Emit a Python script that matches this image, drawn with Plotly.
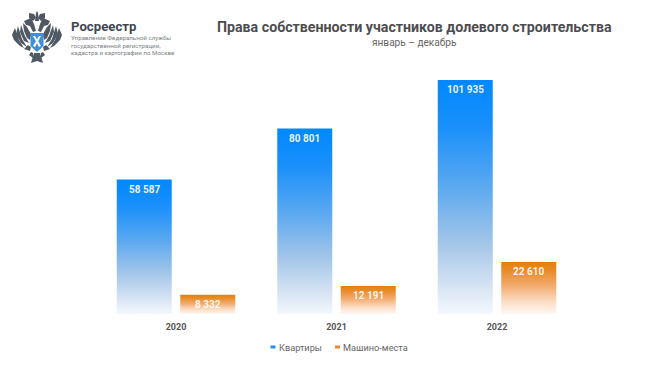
import plotly.graph_objects as go

years = ["2020", "2021", "2022"]
apartments = [58587, 80801, 101935]
parking = [8332, 12191, 22610]
apartment_labels = ["58 587", "80 801", "101 935"]
parking_labels = ["8 332", "12 191", "22 610"]
series_names = ["Квартиры", "Машино-места"]
title_text = "Права собственности участников долевого строительства"
subtitle_text = "январь – декабрь"
org_name = "Росреестр"
org_lines = ["Управление Федеральной службы", "государственной регистрации,", "кадастра и картографии по Москве"]

W, H = 650, 367
BASE_PX = 314
K = 101935 / 234
PITCH = 160.5
X0 = 176
BAR_W = 55 / PITCH
OFF = 31.75 / PITCH

BLUE = [[0, "#f4f8fd"], [0.12, "#d5e3f3"], [0.3, "#a4c6e8"], [0.55, "#5aa8f0"], [0.8, "#1a90fb"], [1, "#0088ff"]]
ORANGE = [[0, "#fef8f3"], [0.25, "#fbdcc4"], [0.55, "#f3aa6d"], [0.85, "#e88a25"], [1, "#e47f0b"]]

fig = go.Figure()
annotations = []


def add_bars(values, labels, name, offset, scale):
    for i, v in enumerate(values):
        c = i + offset
        fig.add_trace(go.Scatter(
            x=[c - BAR_W / 2, c - BAR_W / 2, c + BAR_W / 2, c + BAR_W / 2, c - BAR_W / 2],
            y=[0, v, v, 0, 0], mode="lines", line=dict(width=0), fill="toself",
            fillgradient=dict(type="vertical", colorscale=scale, start=0, stop=v),
            name=name, showlegend=False, hoverinfo="skip"))
        annotations.append(dict(
            x=c, y=v, xref="x", yref="y", text=labels[i], showarrow=False, yanchor="middle", yshift=-9.5,
            font=dict(family="Roboto", size=10, color="rgba(255,255,255,0.92)", weight="bold")))


add_bars(apartments, apartment_labels, series_names[0], -OFF, BLUE)
add_bars(parking, parking_labels, series_names[1], OFF, ORANGE)


def px(x):
    return x / W


def py(y):
    return 1 - y / H


def path(points):
    return "M" + " L".join(f"{px(x):.5f},{py(y):.5f}" for x, y in points) + " Z"


def mirror(points):
    return [(74 - x, y) for x, y in points]


GREY = "#4e5963"
emblem = [
    # left wing feathers
    [(31, 34), (27, 27), (23, 23), (24, 31), (27, 38), (30, 40)],
    [(21, 25), (20, 32), (24, 41), (29, 43), (25, 36)],
    [(18, 26), (16, 34), (21, 43), (27, 47), (22, 39)],
    [(15, 28), (12, 35), (14, 40), (20, 46), (24, 48), (19, 40)],
    [(24, 49), (30, 51), (31, 47), (28, 45)],
    # neck and head
    [(24, 21), (31, 18), (34, 24), (36, 31), (33, 32), (30, 26), (26, 25)],
    # crown
    [(29, 13), (34, 14), (36, 18), (33, 21), (29, 18)],
    # legs
    [(31, 52), (33, 53), (33, 58), (29, 55)],
]
shapes = []
for pts in emblem:
    for p in (pts, mirror(pts)):
        shapes.append(dict(type="path", xref="paper", yref="paper", path=path(p),
                           fillcolor=GREY, line=dict(width=0)))
for pts, col in [
    ([(36, 13), (37, 11), (38, 13), (39, 21), (35, 21)], GREY),
    ([(34, 53), (40, 53), (43, 63), (37, 61), (31, 63)], GREY),
    ([(30.5, 33), (43.5, 33), (43.5, 46), (37, 52), (30.5, 46)], "#3f8fd8"),
]:
    shapes.append(dict(type="path", xref="paper", yref="paper", path=path(pts),
                       fillcolor=col, line=dict(width=0)))
for pts in [[(33, 36), (35, 36), (41, 46), (39, 47)], [(41, 36), (39, 36), (33, 46), (35, 47)]]:
    shapes.append(dict(type="path", xref="paper", yref="paper", path=path(pts),
                       fillcolor="#ffffff", line=dict(width=0)))

# legend swatches
for x0, col in [(270.5, "#1e90ee"), (335, "#e9862a")]:
    shapes.append(dict(type="rect", xref="paper", yref="paper", x0=px(x0), x1=px(x0 + 5),
                       y0=py(348.5), y1=py(345.5), fillcolor=col, line=dict(width=0)))


def note(text, x, y, size, color, anchor="left", weight="normal", family="Roboto"):
    return dict(text=text, xref="paper", yref="paper", x=px(x), y=py(y), xanchor=anchor, yanchor="middle",
                showarrow=False, borderpad=0, font=dict(family=family, size=size, color=color, weight=weight))


annotations += [
    note(title_text, 414.5, 27, 14.2, "#4d4d4f", "center", "bold"),
    note(subtitle_text, 414.5, 42, 10.1, "#666666", "center"),
    note(org_name, 70, 27, 13.2, "#3f4750", "left", "bold"),
    note(org_lines[0], 70, 38, 6.2, "#7b7f84"),
    note(org_lines[1], 70, 45.5, 6.2, "#7b7f84"),
    note(org_lines[2], 70, 53, 6.2, "#7b7f84"),
    note(series_names[0], 278, 347.5, 9.2, "#666666"),
    note(series_names[1], 342, 347.5, 9.2, "#666666"),
]

fig.update_layout(
    width=W, height=H, margin=dict(l=0, r=0, t=0, b=0), paper_bgcolor="#ffffff",
    plot_bgcolor="#ffffff", showlegend=False, shapes=shapes, annotations=annotations,
    xaxis=dict(range=[-X0 / PITCH, (W - X0) / PITCH], tickvals=[0, 1, 2], ticktext=years, showgrid=False,
               zeroline=False, showline=False, ticks="outside", ticklen=4, tickcolor="rgba(0,0,0,0)",
               tickfont=dict(family="Roboto", size=9, color="#555555", weight="bold"), fixedrange=True),
    yaxis=dict(range=[0, BASE_PX * K], domain=[1 - BASE_PX / H, 1], visible=False, fixedrange=True),
)
fig.write_html("out.html", config=dict(displayModeBar=False),
               post_script="document.body.style.margin='0';")
